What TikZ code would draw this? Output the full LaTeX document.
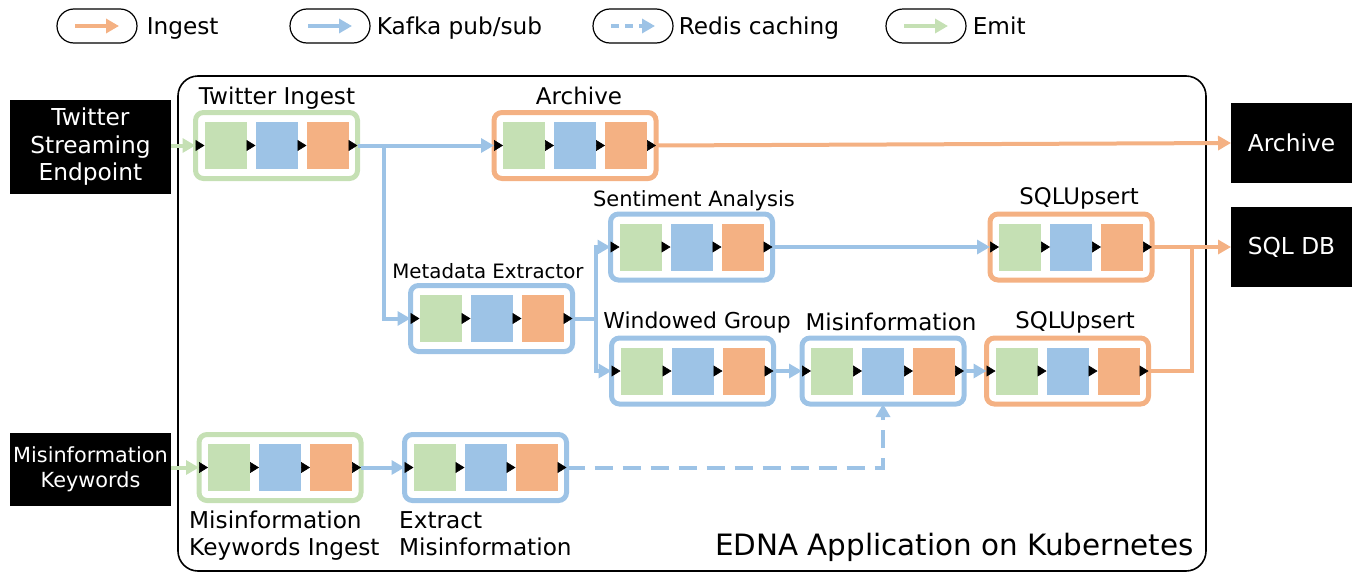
\documentclass[tikz,border=0pt]{standalone}
\usepackage{fontspec}
\setmainfont{DejaVu Sans}
\usetikzlibrary{arrows.meta,calc}
\definecolor{cg}{HTML}{C5E0B4}
\definecolor{cb}{HTML}{9DC3E6}
\definecolor{co}{HTML}{F4B183}
\newcommand\fs[2]{\fontsize{#1}{#2}\selectfont}
\tikzset{
  grp/.style={draw, line width=5pt, rounded corners=8pt, minimum width=162pt, minimum height=66pt, inner sep=0pt, outer sep=0pt},
  ib/.style={minimum width=42pt, minimum height=47pt, inner sep=0pt, outer sep=0pt},
  iarr/.style={draw=black!60, line width=0.6pt, -{Triangle[length=9pt,width=11pt,fill=black,color=black]}},
  conn/.style={line width=4pt, -{Triangle[length=13pt,width=14pt]}},
  kafka/.style={conn, draw=cb},
  ingest/.style={conn, draw=co},
  emit/.style={conn, draw=cg},
  redis/.style={kafka, dash pattern=on 18pt off 10pt},
  blk/.style={fill=black, text=white, inner sep=0pt, outer sep=0pt, align=center},
  lbl/.style={anchor=base, inner sep=0pt},
  lblw/.style={anchor=base west, inner sep=0pt},
  pill/.style={draw, line width=1.2pt, rounded corners=17pt, minimum width=80pt, minimum height=34pt, inner sep=0pt},
  cont/.style={draw, line width=1.6pt, rounded corners=20pt, minimum width=1028pt, minimum height=495pt, inner sep=0pt}
}
\newcommand\stage[4]{%
  \node[grp, draw=#4] (#1) at (#2,#3) {};
  \node[ib, fill=cg] (#1-a) at ($(#1.center)+(-51,0)$) {};
  \node[ib, fill=cb] (#1-b) at (#1.center) {};
  \node[ib, fill=co] (#1-c) at ($(#1.center)+(51,0)$) {};
  \draw[iarr] (#1.west) -- (#1-a.west);
  \draw[iarr] (#1-a.east) -- (#1-b.west);
  \draw[iarr] (#1-b.east) -- (#1-c.west);
  \draw[iarr] (#1-c.east) -- (#1.east);
}
\begin{document}
\begin{tikzpicture}[x=1pt,y=-1pt]
\useasboundingbox (0,0) rectangle (1357,573);
% container
\node[cont] (container) at (692,323.5) {};
\node[lbl, anchor=base east, font={\fs{29.4}{34}}] (edna) at (1194,555) {EDNA Application on Kubernetes};
% legend
\node[pill] (lg1) at (97,26) {};
\draw[ingest] ([xshift=-22pt]lg1.center) -- ([xshift=22pt]lg1.center);
\node[lblw, font={\fs{23.2}{27}}] (lg1t) at ($(lg1.east)+(9,8)$) {Ingest};
\node[pill] (lg2) at (330,26) {};
\draw[kafka] ([xshift=-22pt]lg2.center) -- ([xshift=22pt]lg2.center);
\node[lblw, font={\fs{23.2}{27}}] (lg2t) at ($(lg2.east)+(6,8)$) {Kafka pub/sub};
\node[pill] (lg3) at (633,26) {};
\draw[kafka, dash pattern=on 8pt off 6pt] ([xshift=-22pt]lg3.center) -- ([xshift=22pt]lg3.center);
\node[lblw, font={\fs{23.2}{27}}] (lg3t) at ($(lg3.east)+(5,8)$) {Redis caching};
\node[pill] (lg4) at (926,26) {};
\draw[emit] ([xshift=-22pt]lg4.center) -- ([xshift=22pt]lg4.center);
\node[lblw, font={\fs{23.2}{27}}] (lg4t) at ($(lg4.east)+(6,8)$) {Emit};
% external boxes
\node[blk, minimum width=161pt, minimum height=94pt, font={\fs{23.3}{27.5}}] (tse) at (90.5,147) {Twitter\\Streaming\\Endpoint};
\node[blk, minimum width=121pt, minimum height=80pt, font={\fs{23.3}{27}}] (arcbox) at (1291.5,143) {Archive};
\node[blk, minimum width=121pt, minimum height=80pt, font={\fs{23.3}{27}}] (sqldb) at (1291.5,247) {SQL DB};
\node[blk, minimum width=161pt, minimum height=73pt, font={\fs{20.8}{25}}] (mkw) at (90.5,469.5) {Misinformation\\Keywords};
% stages
\stage{tin}{276.5}{145.5}{cg}
\stage{arch}{575}{145.5}{co}
\stage{sent}{691.5}{247}{cb}
\stage{meta}{491.5}{318.5}{cb}
\stage{wind}{692.5}{371}{cb}
\stage{misi}{883}{371}{cb}
\stage{sqlt}{1071}{247}{co}
\stage{sqlb}{1067.5}{371}{co}
\stage{mki}{280}{467.5}{cg}
\stage{ext}{485.5}{467.5}{cb}
% labels
\node[lbl, font={\fs{23.1}{27}}] (tinL) at (277,104) {Twitter Ingest};
\node[lbl, font={\fs{23}{27}}] (archL) at (579,104) {Archive};
\node[lbl, font={\fs{21}{24}}] (sentL) at (694,206) {Sentiment Analysis};
\node[lbl, font={\fs{19.8}{24}}] (metaL) at (488,278) {Metadata Extractor};
\node[lbl, font={\fs{21.9}{24}}] (windL) at (697,328) {Windowed Group};
\node[lbl, font={\fs{23}{27}}] (misiL) at (891,330) {Misinformation};
\node[lbl, font={\fs{22.8}{27}}] (sqltL) at (1079,204) {SQLUpsert};
\node[lbl, font={\fs{22.8}{27}}] (sqlbL) at (1075,328) {SQLUpsert};
\node[lblw, font={\fs{23.2}{27}}] (mkiL1) at (189,528) {Misinformation};
\node[lblw, font={\fs{23.2}{27}}] (mkiL2) at (189,555) {Keywords Ingest};
\node[lblw, font={\fs{23.2}{27}}] (extL1) at (399,528) {Extract};
\node[lblw, font={\fs{23.2}{27}}] (extL2) at (399,555) {Misinformation};
% connectors
\draw[emit] (tse.east |- tin.west) -- (tin.west);
\draw[kafka] (tin.east) -- (arch.west);
\draw[kafka] (tin.east) -- ++(26,0) |- (meta.west);
\draw[ingest] (arch.east) -- (arcbox.west);
\draw[kafka] (meta.east) -- ++(23,0) |- (sent.west);
\draw[kafka] (meta.east) -- ++(23,0) |- (wind.west);
\draw[kafka] (sent.east) -- (sqlt.west);
\draw[kafka] (wind.east) -- (misi.west);
\draw[kafka] (misi.east) -- (sqlb.west);
\draw[ingest] (sqlt.east) -- (sqldb.west);
\draw[ingest, -] (sqlb.east) -- ++(43.5,0) -- ($(sqlb.east |- sqlt.east)+(43.5,0)$);
\draw[emit] (mkw.east |- mki.west) -- (mki.west);
\draw[kafka] (mki.east) -- (ext.west);
\draw[redis] (ext.east) -| (misi.south);
\end{tikzpicture}
\end{document}
